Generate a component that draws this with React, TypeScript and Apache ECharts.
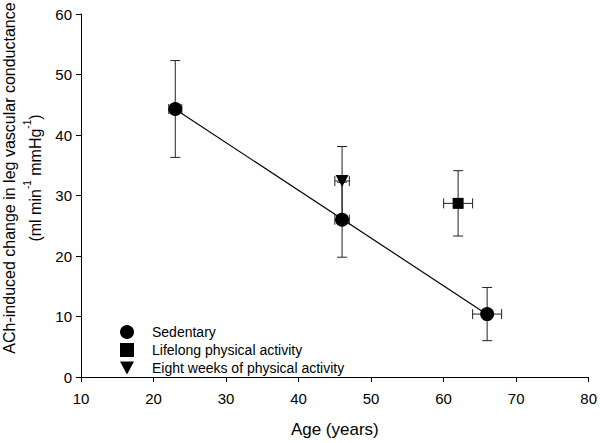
import React, { useEffect, useRef } from 'react';
import * as echarts from 'echarts';

const sedentaryAge = [23, 46, 66];
const sedentaryValue = [44.3, 26.0, 10.4];
const sedentaryAgeErr = [0.9, 1.0, 2.0];
const sedentaryValueErr = [8.0, 6.2, 4.4];

const lifelongAge = [62];
const lifelongValue = [28.7];
const lifelongAgeErr = [2.0];
const lifelongValueErr = [5.4];

const eightWeeksAge = [46];
const eightWeeksValue = [32.4];
const eightWeeksAgeErr = [1.0];
const eightWeeksValueErr = [5.7];

const seriesNames = ['Sedentary', 'Lifelong physical activity', 'Eight weeks of physical activity'];
const xTicks = [10, 20, 30, 40, 50, 60, 70, 80];
const yTicks = [0, 10, 20, 30, 40, 50, 60];

const FONT = '"Liberation Sans", Arial, sans-serif';
const TRI_DOWN = 'path://M0,0 L12,0 L6,11 Z';

function fitLine(xs: number[], ys: number[]) {
  const n = xs.length;
  const mx = xs.reduce((a, b) => a + b, 0) / n;
  const my = ys.reduce((a, b) => a + b, 0) / n;
  let sxy = 0, sxx = 0;
  for (let i = 0; i < n; i++) {
    sxy += (xs[i] - mx) * (ys[i] - my);
    sxx += (xs[i] - mx) * (xs[i] - mx);
  }
  const slope = sxy / sxx;
  const x0 = Math.min(...xs);
  const x1 = Math.max(...xs);
  return [[x0, my + slope * (x0 - mx)], [x1, my + slope * (x1 - mx)]];
}

export default function App() {
  const ref = useRef<HTMLDivElement>(null);
  useEffect(() => {
    if (!ref.current) return;
    const chart = echarts.init(ref.current, undefined, { renderer: 'svg' });
    const errData: number[][] = [];
    const push = (a: number[], v: number[], ae: number[], ve: number[]) => {
      a.forEach((x, i) => errData.push([x, v[i], ae[i], ve[i]]));
    };
    push(sedentaryAge, sedentaryValue, sedentaryAgeErr, sedentaryValueErr);
    push(lifelongAge, lifelongValue, lifelongAgeErr, lifelongValueErr);
    push(eightWeeksAge, eightWeeksValue, eightWeeksAgeErr, eightWeeksValueErr);

    const errStyle = { stroke: '#222', lineWidth: 1, fill: 'none' };
    const cap = 5;

    chart.setOption({
      animation: false,
      backgroundColor: '#fff',
      grid: { left: 81, right: 9, top: 14, bottom: 64 },
      xAxis: {
        type: 'value',
        min: xTicks[0],
        max: xTicks[xTicks.length - 1],
        interval: 10,
        name: 'Age (years)',
        nameLocation: 'middle',
        nameGap: 44,
        nameTextStyle: { fontFamily: FONT, fontSize: 17, color: '#000' },
        axisLine: { show: true, lineStyle: { color: '#000', width: 1 } },
        axisTick: { show: true, length: 5, lineStyle: { color: '#000' } },
        axisLabel: { fontFamily: FONT, fontSize: 15, color: '#000', margin: 14 },
        splitLine: { show: false },
      },
      yAxis: {
        type: 'value',
        min: yTicks[0],
        max: yTicks[yTicks.length - 1],
        interval: 10,
        axisLine: { show: true, lineStyle: { color: '#000', width: 1 } },
        axisTick: { show: true, length: 5, lineStyle: { color: '#000' } },
        axisLabel: { fontFamily: FONT, fontSize: 15, color: '#000', margin: 9 },
        splitLine: { show: false },
      },
      legend: {
        orient: 'vertical',
        left: 115,
        top: 320,
        itemWidth: 14,
        itemHeight: 14,
        itemGap: 4,
        data: seriesNames,
        textStyle: { fontFamily: FONT, fontSize: 14, color: '#000', padding: [0, 0, 0, 13] },
      },
      graphic: [
        {
          type: 'text',
          x: 22,
          y: 178,
          rotation: Math.PI / 2,
          style: {
            text: '{a|ACh-induced change in leg vascular conductance}\n{a|(ml min}{s|-1}{a| mmHg}{s|-1}{a|)}',
            align: 'center',
            verticalAlign: 'middle',
            fill: '#000',
            fontFamily: FONT,
            rich: {
              a: { fontFamily: FONT, fontSize: 16, lineHeight: 26, fill: '#000' },
              s: { fontFamily: FONT, fontSize: 10, lineHeight: 12, verticalAlign: 'top', fill: '#000' },
            },
          },
        },
      ],
      series: [
        {
          type: 'custom',
          name: 'errors',
          data: errData,
          z: 1,
          silent: true,
          renderItem: (_params: any, api: any) => {
            const x = api.value(0), y = api.value(1), xe = api.value(2), ye = api.value(3);
            const top = api.coord([x, y + ye]);
            const bot = api.coord([x, y - ye]);
            const left = api.coord([x - xe, y]);
            const right = api.coord([x + xe, y]);
            return {
              type: 'group',
              children: [
                { type: 'line', shape: { x1: top[0], y1: top[1], x2: bot[0], y2: bot[1] }, style: errStyle },
                { type: 'line', shape: { x1: top[0] - cap, y1: top[1], x2: top[0] + cap, y2: top[1] }, style: errStyle },
                { type: 'line', shape: { x1: bot[0] - cap, y1: bot[1], x2: bot[0] + cap, y2: bot[1] }, style: errStyle },
                { type: 'line', shape: { x1: left[0], y1: left[1], x2: right[0], y2: right[1] }, style: errStyle },
                { type: 'line', shape: { x1: left[0], y1: left[1] - cap, x2: left[0], y2: left[1] + cap }, style: errStyle },
                { type: 'line', shape: { x1: right[0], y1: right[1] - cap, x2: right[0], y2: right[1] + cap }, style: errStyle },
              ],
            };
          },
        },
        {
          type: 'line',
          name: 'fit',
          data: fitLine(sedentaryAge, sedentaryValue),
          symbol: 'none',
          lineStyle: { color: '#000', width: 1.2 },
          z: 2,
          silent: true,
        },
        {
          type: 'scatter',
          name: seriesNames[0],
          data: sedentaryAge.map((x, i) => [x, sedentaryValue[i]]),
          symbol: 'circle',
          symbolSize: 14,
          itemStyle: { color: '#000', opacity: 1 },
          z: 3,
        },
        {
          type: 'scatter',
          name: seriesNames[1],
          data: lifelongAge.map((x, i) => [x, lifelongValue[i]]),
          symbol: 'rect',
          symbolSize: 11,
          itemStyle: { color: '#000', opacity: 1 },
          z: 3,
        },
        {
          type: 'scatter',
          name: seriesNames[2],
          data: eightWeeksAge.map((x, i) => [x, eightWeeksValue[i]]),
          symbol: TRI_DOWN,
          symbolSize: [13, 12],
          itemStyle: { color: '#000', opacity: 1 },
          z: 3,
        },
      ],
    });
    return () => chart.dispose();
  }, []);
  return <div ref={ref} style={{ width: 600, height: 443, position: 'fixed', left: 0, top: 0 }} />;
}
